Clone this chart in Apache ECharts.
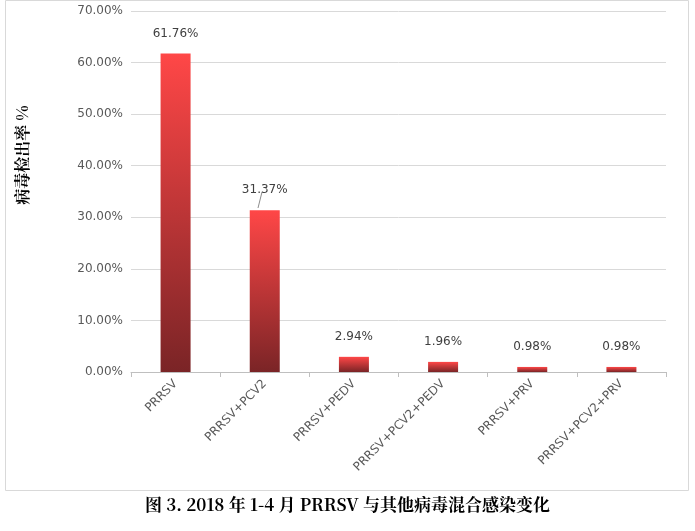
<!DOCTYPE html>
<html>
<head>
<meta charset="utf-8">
<script src="https://cdn.jsdelivr.net/npm/echarts@6/dist/echarts.min.js"></script>
<style>
html,body{margin:0;padding:0;background:#fff;}
#main{width:695px;height:531px;}
</style>
</head>
<body>
<div id="main"></div>
<script>
// 病毒组合及检出率
const categories = ['PRRSV', 'PRRSV+PCV2', 'PRRSV+PEDV', 'PRRSV+PCV2+PEDV', 'PRRSV+PRV', 'PRRSV+PCV2+PRV']
const rates = [61.76, 31.37, 2.94, 1.96, 0.98, 0.98]

const chart = echarts.init(document.getElementById('main'))

const barColor = new echarts.graphic.LinearGradient(0, 0, 0, 1, [
    {offset: 0, color: '#ff4747'},
    {offset: 1, color: '#7a2426'}
])

chart.setOption({
    animation: false,
    grid: {left: 131, right: 29, top: 11, bottom: 159},
    xAxis: {
        type: 'category',
        data: categories,
        axisLine: {lineStyle: {color: '#bfbfbf'}},
        axisTick: {show: true, lineStyle: {color: '#bfbfbf'}},
        axisLabel: {rotate: 45, color: '#595959', fontSize: 12, fontFamily: 'DejaVu Sans', interval: 0, margin: 10}
    },
    yAxis: {
        type: 'value',
        min: 0, max: 70, interval: 10,
        axisLine: {show: false},
        axisTick: {show: false},
        axisLabel: {color: '#595959', fontSize: 12, fontFamily: 'DejaVu Sans',
            formatter: v => v.toFixed(2) + '%'},
        splitLine: {lineStyle: {color: '#d9d9d9'}}
    },
    series: [{
        type: 'bar',
        data: rates,
        barWidth: 30,
        itemStyle: {color: barColor},
        label: {
            show: true, position: 'top', distance: 14,
            color: '#404040', fontSize: 12, fontFamily: 'DejaVu Sans',
            formatter: p => p.value.toFixed(2) + '%'
        }
    }],
    graphic: [
        {type: 'rect', shape: {x: 5.5, y: 0.5, width: 683, height: 490},
            style: {fill: 'none', stroke: '#d9d9d9', lineWidth: 1}},
        {type: 'text', x: 22, y: 155, rotation: Math.PI / 2,
            style: {text: '病毒检出率 %', font: 'bold 16px "Noto Serif CJK SC", "Noto Sans CJK SC", serif', fill: '#000',
                align: 'center', verticalAlign: 'middle'}},
        {type: 'line', shape: {x1: 262, y1: 192, x2: 258, y2: 208},
            style: {stroke: '#8c8c8c', lineWidth: 1}},
        {type: 'text', left: 'center', top: 496,
            style: {text: '图 3. 2018 年 1-4 月 PRRSV 与其他病毒混合感染变化',
                font: 'bold 17px "Noto Serif CJK SC", "Noto Sans CJK SC", serif', fill: '#000'}}
    ]
})
</script>
</body>
</html>
